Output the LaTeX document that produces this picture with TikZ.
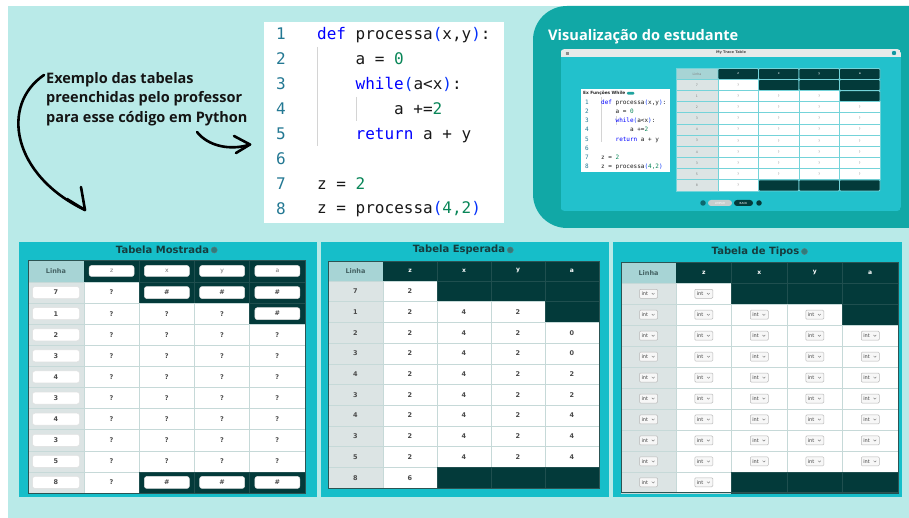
\documentclass[tikz,border=0pt]{standalone}
\usepackage{fontspec}
\setmainfont{DejaVu Sans}
\newfontfamily\opensans{Open Sans}
\newfontfamily\codemono{DejaVu Sans Mono}
\usetikzlibrary{calc}

\definecolor{pagecyan}{HTML}{B9EAE8}
\definecolor{panelteal}{HTML}{16BEC9}
\definecolor{viewteal}{HTML}{11A8A6}
\definecolor{darkcell}{HTML}{033A3A}
\definecolor{linhahead}{HTML}{A7D4D5}
\definecolor{linhabody}{HTML}{DCE4E4}
\definecolor{gridlight}{HTML}{C6D9D8}
\definecolor{griddark}{HTML}{1F4F4F}
\definecolor{tableedge}{HTML}{2C5453}
\definecolor{celltext}{HTML}{4A4A4A}
\definecolor{titletext}{HTML}{163C3D}
\definecolor{lineno}{HTML}{237893}
\definecolor{kwblue}{HTML}{0000FF}
\definecolor{brblue}{HTML}{0431FA}
\definecolor{numgreen}{HTML}{098658}
\definecolor{guide}{HTML}{D4D4D4}
\definecolor{barlight}{HTML}{E8EAEA}
\definecolor{minigap}{HTML}{74D3D9}
\definecolor{infoicon}{HTML}{2E7C7D}
\definecolor{pillteal}{HTML}{1FA39E}

\tikzset{
  cellval/.style={font=\fontsize{6.5}{7}\selectfont\bfseries, text=celltext, inner sep=0pt},
  headlinha/.style={font=\fontsize{6.5}{7}\selectfont\bfseries, text=titletext!80, inner sep=0pt},
  headletter/.style={font=\fontsize{6}{7}\selectfont\bfseries, text=white, inner sep=0pt},
  inbox/.style={draw=black!12, fill=white, rounded corners=2.5pt, line width=0.5pt,
    minimum height=12pt, inner sep=0pt, font=\fontsize{6.5}{7}\selectfont\bfseries, text=celltext},
  inboxlight/.style={inbox, font=\fontsize{6}{7}\selectfont, text=black!55},
  dropbox/.style={draw=black!28, fill=black!3, rounded corners=1pt, line width=0.5pt,
    minimum width=18pt, minimum height=9pt, inner xsep=1.8pt, inner ysep=0pt,
    font=\fontsize{5}{6}\selectfont, text=black!75},
  chev/.style={draw=black!50, line width=0.45pt},
  paneltitle/.style={font=\fontsize{10}{12}\selectfont\bfseries, text=titletext, inner sep=0pt},
  infodot/.style={circle, fill=infoicon, draw=titletext!70, line width=0.5pt, minimum size=6pt, inner sep=0pt},
  lnum/.style={font=\codemono\fontsize{16}{18}\selectfont, text=lineno, anchor=base, inner sep=0pt},
  code/.style={font=\codemono\fontsize{16}{18}\selectfont, text=black!90, anchor=base west, inner sep=0pt},
  mlnum/.style={font=\codemono\fontsize{6}{7}\selectfont, text=lineno, anchor=base, inner sep=0pt},
  mcode/.style={font=\codemono\fontsize{6}{7}\selectfont, text=black!90, anchor=base west, inner sep=0pt},
  minitxt/.style={font=\fontsize{3.2}{4}\selectfont, text=black!50, inner sep=0pt},
  handarrow/.style={line width=2.6pt, line cap=round, line join=round, draw=black},
  note/.style={font=\opensans\bfseries\fontsize{14.5}{19.5}\selectfont, text=black!92, anchor=base west, inner sep=0pt},
}

% dark cell pattern of every trace table (uses \r and \c)
\newcommand\setdark{\pgfmathtruncatemacro\isdark{or(and(\r==1,\c>1),or(and(\r==2,\c==4),and(\r==10,\c>1)))}}

% backgrounds and grid of a trace table placed at \TX,\TY
\newcommand\tracegrid{%
  \fill[linhahead] (\TX,\TY) rectangle ++(\TL,\TH);
  \fill[darkcell] ({\TX+\TL},\TY) rectangle ++({4*\TC},\TH);
  \foreach \c in {2,3,4}{\draw[griddark, line width=0.6pt] ({\TX+\TL+(\c-1)*\TC},\TY) -- ++(0,\TH);}
  \foreach \r in {1,...,10}{%
    \pgfmathsetmacro\ry{\TY+\TH+(\r-1)*\TR}%
    \filldraw[fill=linhabody, draw=gridlight, line width=0.6pt] (\TX,\ry) rectangle ++(\TL,\TR);
    \foreach \c in {1,...,4}{%
      \pgfmathsetmacro\cx{\TX+\TL+(\c-1)*\TC}%
      \setdark
      \ifnum\isdark=1
        \filldraw[fill=darkcell, draw=griddark, line width=0.6pt] (\cx,\ry) rectangle ++(\TC,\TR);
      \else
        \filldraw[fill=white, draw=gridlight, line width=0.6pt] (\cx,\ry) rectangle ++(\TC,\TR);
      \fi
    }%
  }%
  \draw[tableedge, line width=0.9pt] (\TX,\TY) rectangle ++({\TL+4*\TC},{\TH+10*\TR});
}

\begin{document}
\begin{tikzpicture}[x=1pt,y=-1pt]
\useasboundingbox (0,0) rectangle (909,518);
\clip (0,0) rectangle (909,518);
\fill[white] (0,0) rectangle (909,518);
\fill[pagecyan] (8,6) rectangle (909,518);

% ---------- code listing ----------
\fill[white] (264,22) rectangle (504,223);
\draw[guide, line width=0.8pt] (317.5,47) -- (317.5,146);
\draw[guide, line width=0.8pt] (356,97) -- (356,121);
\foreach \i in {1,...,8}{
  \node[lnum] (ln\i) at (281,{40+(\i-1)*24.86}) {\i};
}
\node[code] (c1) at (317,40) {\textcolor{kwblue}{def} processa\textcolor{brblue}{(}x,y\textcolor{brblue}{)}:};
\node[code] (c2) at (355.5,64.86) {a = \textcolor{numgreen}{0}};
\node[code] (c3) at (355.5,89.72) {\textcolor{kwblue}{while}\textcolor{brblue}{(}a<x\textcolor{brblue}{)}:};
\node[code] (c4) at (394,114.58) {a +=\textcolor{numgreen}{2}};
\node[code] (c5) at (355.5,139.44) {\textcolor{kwblue}{return} a + y};
\node[code] (c7) at (317,189.16) {z = \textcolor{numgreen}{2}};
\node[code] (c8) at (317,214) {z = processa\textcolor{brblue}{(}\textcolor{numgreen}{4,2}\textcolor{brblue}{)}};

% ---------- note and arrows ----------
\node[note] (n1) at (46,83.5) {Exemplo das tabelas};
\node[note] (n2) at (46,103) {preenchidas pelo professor};
\node[note] (n3) at (46,122.5) {para esse código em Python};

\coordinate (a1s) at (44,75);
\coordinate (a1e) at (85,210);
\draw[handarrow] (a1s) .. controls (0,105) and (12,175) .. (a1e);
\draw[handarrow] (67,199) -- (a1e) -- (81,187);
\coordinate (a2s) at (197,132);
\coordinate (a2e) at (250,144.5);
\draw[handarrow] (a2s) .. controls (208,146) and (230,151) .. (a2e);
\draw[handarrow] (234,136) -- (a2e) -- (236,153);

% ---------- student view ----------
\fill[viewteal, rounded corners=34pt] (960,6) -- (533,6) -- (533,228) -- (960,228) -- cycle;
\node[font=\opensans\bfseries\fontsize{14.6}{18}\selectfont, text=white, anchor=base west, inner sep=0pt]
  (viewtitle) at (548,41) {Visualização do estudante};

\begin{scope}
  \clip[rounded corners=4pt] (560.5,49) rectangle (901,211);
  \fill[panelteal!95!white] (560.5,49) rectangle (901,211);
  \fill[barlight] (560.5,49) rectangle (901,57);
\end{scope}
\foreach \k in {0,1,2}{\draw[black!45, line width=0.35pt] (565.5,{51.8+\k*1.2}) -- (568.5,{51.8+\k*1.2});}
\node[font=\fontsize{3.6}{4}\selectfont\bfseries, text=black!70, inner sep=0pt] (apptitle) at (731,53) {My Trace Table};
\node[circle, fill=panelteal!80!black, draw=white, line width=0.5pt, minimum size=5.5pt, inner sep=0pt] (appicon) at (894,53) {};

% small code panel
\fill[white] (581,89) rectangle (670,172);
\node[font=\fontsize{4.3}{5}\selectfont\bfseries, text=black!85, anchor=west, inner sep=0pt] (mtitle) at (583,93.3) {Ex Funções While};
\node[fill=pillteal, rounded corners=1.2pt, minimum width=7.5pt, minimum height=2.8pt, inner sep=0pt] (mpill) at ($(mtitle.east)+(5,0)$) {};
\draw[guide, line width=0.5pt] (601.5,97) -- (601.5,142);
\draw[guide, line width=0.5pt] (616,116) -- (616,125);
\foreach \i in {1,...,8}{
  \node[mlnum] (mln\i) at (587,{104.3+(\i-1)*9.2}) {\i};
}
\node[mcode] (mc1) at (601,104.3) {\textcolor{kwblue}{def} processa\textcolor{brblue}{(}x,y\textcolor{brblue}{)}:};
\node[mcode] (mc2) at (615.45,113.5) {a = \textcolor{numgreen}{0}};
\node[mcode] (mc3) at (615.45,122.7) {\textcolor{kwblue}{while}\textcolor{brblue}{(}a<x\textcolor{brblue}{)}:};
\node[mcode] (mc4) at (629.9,131.9) {a +=\textcolor{numgreen}{2}};
\node[mcode] (mc5) at (615.45,141.1) {\textcolor{kwblue}{return} a + y};
\node[mcode] (mc7) at (601,159.5) {z = \textcolor{numgreen}{2}};
\node[mcode] (mc8) at (601,168.7) {z = processa\textcolor{brblue}{(}\textcolor{numgreen}{4,2}\textcolor{brblue}{)}};

% small trace table
\def\TX{676}\def\TY{68.5}\def\TL{42}\def\TC{40.5}\def\TH{11}\def\TR{11.15}
\filldraw[fill=linhahead, draw=minigap, line width=0.9pt] (\TX,\TY) rectangle ++(\TL,\TH);
\node[minitxt] (s-h0) at ({\TX+\TL/2},{\TY+\TH/2}) {Linha};
\foreach \c/\v in {1/z,2/x,3/y,4/a}{
  \filldraw[fill=darkcell, draw=minigap, line width=0.9pt, rounded corners=1pt] ({\TX+\TL+(\c-1)*\TC},\TY) rectangle ++(\TC,\TH);
  \node[minitxt, text=white] (s-h\c) at ({\TX+\TL+(\c-0.5)*\TC},{\TY+\TH/2}) {\v};
}
\foreach \r/\l in {1/7,2/1,3/2,4/3,5/4,6/3,7/4,8/3,9/5,10/8}{
  \filldraw[fill=linhabody, draw=minigap, line width=0.9pt] (\TX,{\TY+\TH+(\r-1)*\TR}) rectangle ++(\TL,\TR);
  \node[minitxt] (s-\r-0) at ({\TX+\TL/2},{\TY+\TH+(\r-0.5)*\TR}) {\l};
  \foreach \c in {1,...,4}{
    \setdark
    \ifnum\isdark=1
      \filldraw[fill=darkcell, draw=minigap, line width=0.9pt, rounded corners=1pt] ({\TX+\TL+(\c-1)*\TC},{\TY+\TH+(\r-1)*\TR}) rectangle ++(\TC,\TR);
    \else
      \filldraw[fill=white, draw=minigap, line width=0.9pt] ({\TX+\TL+(\c-1)*\TC},{\TY+\TH+(\r-1)*\TR}) rectangle ++(\TC,\TR);
      \node[minitxt] (s-\r-\c) at ({\TX+\TL+(\c-0.5)*\TC},{\TY+\TH+(\r-0.5)*\TR}) {?};
    \fi
  }
}
% buttons under the small table
\node[circle, fill=panelteal!55!black, minimum size=5.5pt, inner sep=0pt] (bprev) at (703,203) {};
\node[fill=linhabody!90!black, rounded corners=3pt, minimum width=24pt, minimum height=6pt, inner sep=0pt,
  font=\fontsize{2.8}{3}\selectfont, text=white] (bclear) at (720,203) {LIMPAR};
\node[fill=darkcell, rounded corners=3pt, minimum width=19pt, minimum height=6pt, inner sep=0pt,
  font=\fontsize{2.8}{3}\selectfont, text=white] (bback) at (743.5,203) {BACK};
\node[circle, fill=darkcell, minimum size=5.5pt, inner sep=0pt] (bnext) at (759,203) {};

% ---------- bottom panels ----------
\fill[panelteal] (19,242) rectangle (317,497);
\fill[panelteal] (321,242) rectangle (609,497);
\fill[panelteal] (613,242) rectangle (902,497);

% Tabela Mostrada
\node[paneltitle] (m-title) at (162.5,250) {Tabela Mostrada};
\node[infodot] (m-info) at ($(m-title.east)+(5,0)$) {};
\def\TX{28}\def\TY{260}\def\TL{56}\def\TC{55.25}\def\TH{22}\def\TR{21.1}
\tracegrid
\node[headlinha] (m-h0) at ({\TX+\TL/2},{\TY+\TH/2}) {Linha};
\foreach \c/\v in {1/z,2/x,3/y,4/a}{
  \node[inboxlight, minimum width=45pt, minimum height=11pt] (m-h\c) at ({\TX+\TL+(\c-0.5)*\TC},{\TY+\TH/2}) {\v};
}
\foreach \r/\l in {1/7,2/1,3/2,4/3,5/4,6/3,7/4,8/3,9/5,10/8}{
  \node[inbox, minimum width=47pt] (m-\r-0) at ({\TX+\TL/2},{\TY+\TH+(\r-0.5)*\TR}) {\l};
  \foreach \c in {1,...,4}{
    \setdark
    \ifnum\isdark=1
      \node[inbox, minimum width=45pt] (m-\r-\c) at ({\TX+\TL+(\c-0.5)*\TC},{\TY+\TH+(\r-0.5)*\TR}) {\#};
    \else
      \node[cellval] (m-\r-\c) at ({\TX+\TL+(\c-0.5)*\TC},{\TY+\TH+(\r-0.5)*\TR}) {?};
    \fi
  }
}

% Tabela Esperada
\node[paneltitle] (e-title) at (459,250) {Tabela Esperada};
\node[infodot] (e-info) at ($(e-title.east)+(5,0)$) {};
\def\TX{328}\def\TY{261}\def\TL{55}\def\TC{54}\def\TH{20}\def\TR{20.7}
\tracegrid
\node[headlinha] (e-h0) at ({\TX+\TL/2},{\TY+\TH/2}) {Linha};
\foreach \c/\v in {1/z,2/x,3/y,4/a}{
  \node[headletter] (e-h\c) at ({\TX+\TL+(\c-0.5)*\TC},{\TY+\TH/2}) {\v};
}
\foreach \r/\l/\vz/\vx/\vy/\va in {1/7/2/0/0/0, 2/1/2/4/2/0, 3/2/2/4/2/0, 4/3/2/4/2/0, 5/4/2/4/2/2,
    6/3/2/4/2/2, 7/4/2/4/2/4, 8/3/2/4/2/4, 9/5/2/4/2/4, 10/8/6/0/0/0}{
  \node[cellval] (e-\r-0) at ({\TX+\TL/2},{\TY+\TH+(\r-0.5)*\TR}) {\l};
  \foreach \c/\v in {1/\vz,2/\vx,3/\vy,4/\va}{
    \setdark
    \ifnum\isdark=0
      \node[cellval] (e-\r-\c) at ({\TX+\TL+(\c-0.5)*\TC},{\TY+\TH+(\r-0.5)*\TR}) {\v};
    \fi
  }
}

% Tabela de Tipos
\node[paneltitle] (t-title) at (755.5,251.5) {Tabela de Tipos};
\node[infodot] (t-info) at ($(t-title.east)+(5,0)$) {};
\def\TX{621}\def\TY{262}\def\TL{55}\def\TC{55.5}\def\TH{21.3}\def\TR{20.95}
\tracegrid
\node[headlinha] (t-h0) at ({\TX+\TL/2},{\TY+\TH/2}) {Linha};
\foreach \c/\v in {1/z,2/x,3/y,4/a}{
  \node[headletter] (t-h\c) at ({\TX+\TL+(\c-0.5)*\TC},{\TY+\TH/2}) {\v};
}
\foreach \r in {1,...,10}{
  \foreach \c in {0,...,4}{
    \setdark
    \ifnum\isdark=0
      \pgfmathsetmacro\cx{\c==0 ? \TX+\TL/2 : \TX+\TL+(\c-0.5)*\TC}
      \node[dropbox] (t-\r-\c) at (\cx,{\TY+\TH+(\r-0.5)*\TR}) {\makebox[14pt][l]{int}};
      \draw[chev] ($(t-\r-\c.east)+(-6,-0.7)$) -- ++(1.4,1.4) -- ++(1.4,-1.4);
    \fi
  }
}
\end{tikzpicture}
\end{document}
